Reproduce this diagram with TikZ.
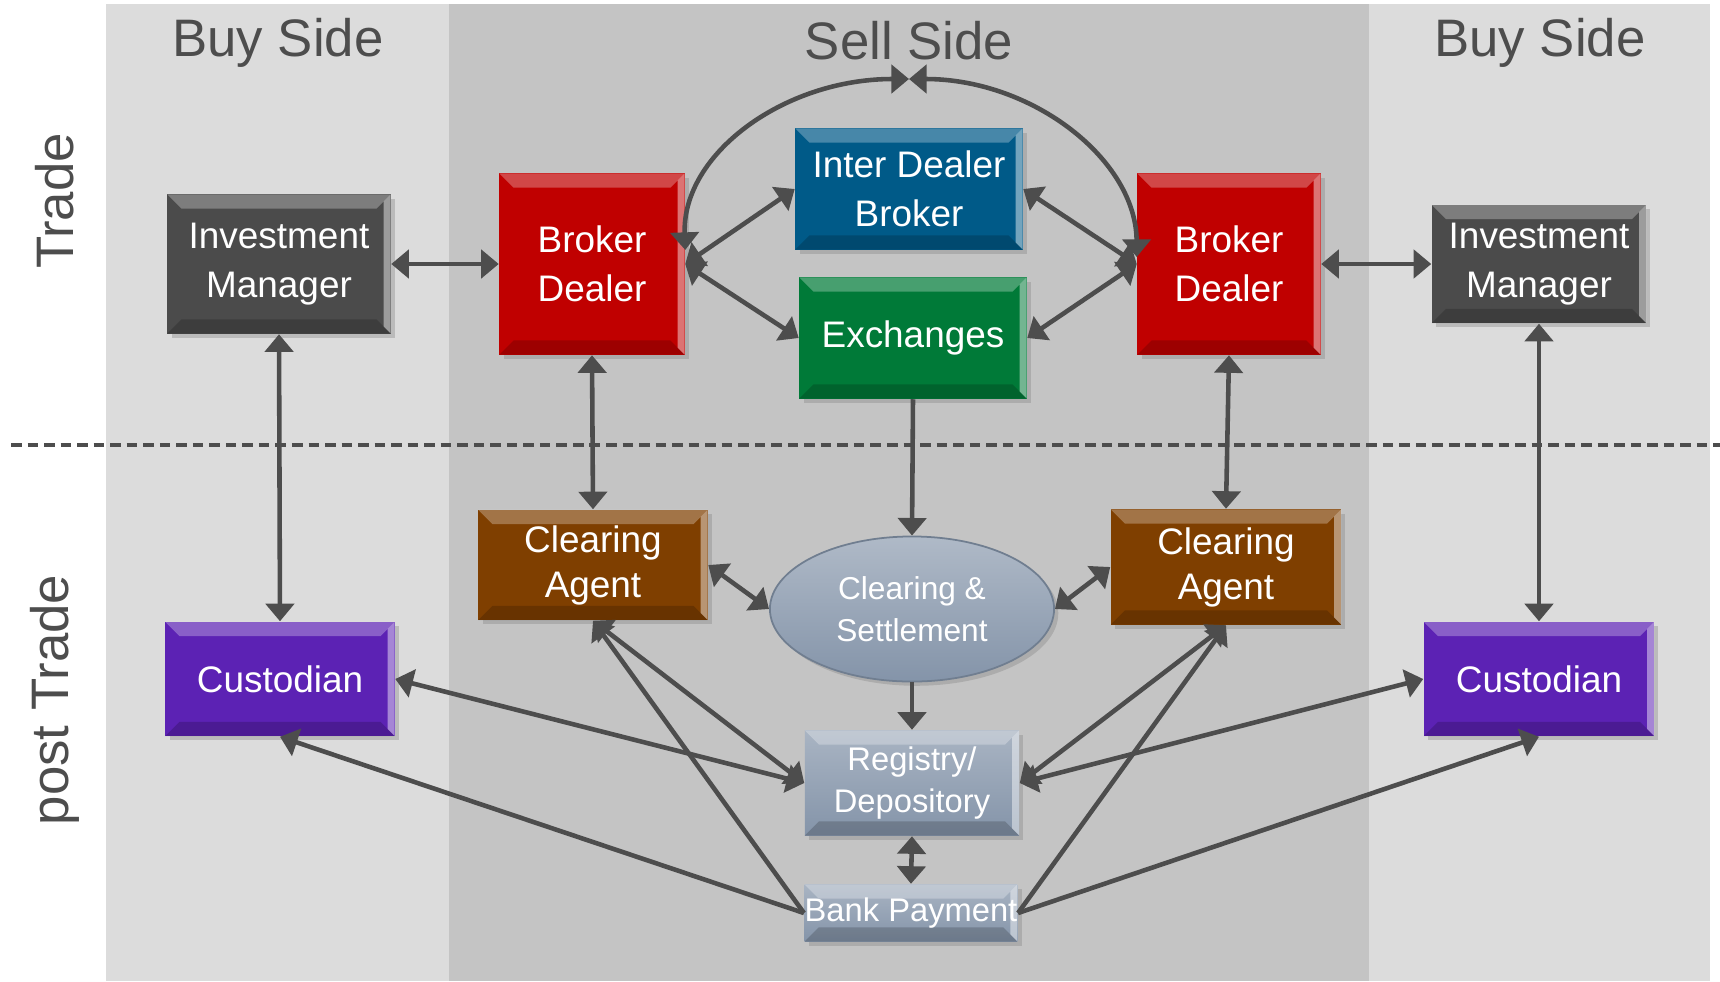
\documentclass[tikz,border=0pt]{standalone}
\usepackage{fontspec}
\setmainfont{Liberation Sans}
\usetikzlibrary{arrows.meta,shapes.geometric,shadows}

\definecolor{buygray}{HTML}{DCDCDC}
\definecolor{sellgray}{HTML}{C4C4C4}
\definecolor{inkgray}{HTML}{4D4D4D}
\definecolor{imgray}{HTML}{4B4B4B}
\definecolor{bdred}{HTML}{C00000}
\definecolor{idbblue}{HTML}{005A88}
\definecolor{exgreen}{HTML}{007A38}
\definecolor{cabrown}{HTML}{7F3F00}
\definecolor{cuspurple}{HTML}{5C22B4}
\definecolor{steel}{HTML}{8494A9}

\tikzset{
  >={Triangle[length=5pt,width=8pt]},
  bevel/.style={path picture={
    \fill[white,opacity=.28] (path picture bounding box.north west) -- (path picture bounding box.north east)
      -- ([xshift=-4pt,yshift=-4pt]path picture bounding box.north east) -- ([xshift=4pt,yshift=-4pt]path picture bounding box.north west) -- cycle;
    \fill[white,opacity=.45] (path picture bounding box.north east) -- (path picture bounding box.south east)
      -- ([xshift=-2pt,yshift=2pt]path picture bounding box.south east) -- ([xshift=-2pt,yshift=-2pt]path picture bounding box.north east) -- cycle;
    \fill[black,opacity=.18] (path picture bounding box.south west) -- (path picture bounding box.south east)
      -- ([xshift=-4pt,yshift=4pt]path picture bounding box.south east) -- ([xshift=4pt,yshift=4pt]path picture bounding box.south west) -- cycle;
  }},
  box/.style={rectangle, inner sep=0pt, text=white, align=center,
    font=\fontsize{10.5}{14}\selectfont,
    drop shadow={shadow xshift=1.2pt, shadow yshift=-1.2pt, opacity=.35}, bevel},
  steelbox/.style={box, top color=steel!70!white, bottom color=steel,
    font=\fontsize{9.3}{12}\selectfont},
  link/.style={line width=1.3pt, draw=inkgray, <->},
  flow/.style={line width=1.3pt, draw=inkgray, ->},
  side/.style={text=inkgray, font=\fontsize{15}{18}\selectfont}
}

\begin{document}
\begin{tikzpicture}[x=0.01cm, y=-0.01cm]
		%%%%% START %%%%%
		\useasboundingbox (0,0) rectangle (1720,981);
		
		\fill[buygray] (106,4) rectangle (449,981);
		\fill[sellgray] (449,4) rectangle (1369,981);
		\fill[buygray] (1369,4) rectangle (1710,981);
		
		\node[side] (buyL) at (278,43) {Buy Side};
		\node[side] (sell) at (909,41) {Sell Side};
		\node[side] (buyR) at (1540,43) {Buy Side};
		\node[side, rotate=90] (trade) at (55,201) {Trade};
		\node[side, rotate=90] (post) at (55,700) {post Trade};
		
		\draw[line width=0.9pt, inkgray, dash pattern=on 3pt off 1.7pt] (11,445) -- (1720,445);
		
		% trade
		\node[box, fill=imgray, minimum width=2.23cm, minimum height=1.39cm] (imL) at (279,264) {Investment\\Manager};
		\node[box, fill=bdred, minimum width=1.85cm, minimum height=1.81cm] (bdL) at (592,264) {Broker\\Dealer};
		\node[box, fill=idbblue, minimum width=2.27cm, minimum height=1.21cm] (idb) at (909,189) {Inter Dealer\\Broker};
		\node[box, fill=exgreen, minimum width=2.27cm, minimum height=1.21cm] (exch) at (913,338) {Exchanges};
		\node[box, fill=bdred, minimum width=1.83cm, minimum height=1.81cm] (bdR) at (1229,264) {Broker\\Dealer};
		\node[box, fill=imgray, minimum width=2.14cm, minimum height=1.18cm] (imR) at (1539,264) {Investment\\Manager};
		\coordinate (arctop) at (909,79);
		
		% post trade
		\node[box, fill=cabrown, minimum width=2.29cm, minimum height=1.10cm, font=\fontsize{10.5}{12.8}\selectfont] (caL) at (593,565) {Clearing\\Agent};
		\node[ellipse, inner sep=0pt, text=white, align=center, font=\fontsize{9}{11.9}\selectfont,
		      minimum width=2.84cm, minimum height=1.45cm, top color=steel!65!white, bottom color=steel,
		      draw=steel!85!black, line width=0.5pt,
		      drop shadow={shadow xshift=1.2pt, shadow yshift=-1.2pt, opacity=.35}] (cs) at (912,609) {Clearing \&\\Settlement};
		\node[box, fill=cabrown, minimum width=2.30cm, minimum height=1.15cm, font=\fontsize{10.5}{12.8}\selectfont] (caR) at (1226,567) {Clearing\\Agent};
		\node[box, fill=cuspurple, minimum width=2.29cm, minimum height=1.14cm] (cusL) at (280,679) {Custodian};
		\node[box, fill=cuspurple, minimum width=2.30cm, minimum height=1.14cm] (cusR) at (1539,679) {Custodian};
		\node[steelbox, minimum width=2.14cm, minimum height=1.05cm] (reg) at (912,783) {Registry/\\Depository};
		\node[steelbox, minimum width=2.12cm, minimum height=0.57cm] (bank) at (911,913) {Bank Payment};
		
		% connectors
		\draw[link] (imL.east) -- (bdL.west);
		\draw[link] (bdR.east) -- (imR.west);
		\draw[link] (bdL.east) -- (idb.west);
		\draw[link] (bdL.east) -- (exch.west);
		\draw[link] (bdR.west) -- (idb.east);
		\draw[link] (bdR.west) -- (exch.east);
		\draw[link] (arctop) .. controls (784,79) and (682,154) .. ([yshift=4pt]bdL.east);
		\draw[link] (arctop) .. controls (1033,79) and (1136,160) .. ([yshift=2pt]bdR.west);
		
		\draw[link] (imL.south) -- (cusL.north);
		\draw[link] (bdL.south) -- (caL.north);
		\draw[link] (bdR.south) -- (caR.north);
		\draw[link] (imR.south) -- (cusR.north);
		
		\draw[flow] (exch.south) -- (cs.north);
		\draw[link] (caL.east) -- (cs.west);
		\draw[link] (cs.east) -- (caR.west);
		\draw[flow] (cs.south) -- (reg.north);
		\draw[link] (reg.south) -- (bank.north);
		
		\draw[link] (cusL.east) -- (reg.west);
		\draw[link] (caL.south) -- (reg.west);
		\draw[flow] (bank.west) -- (cusL.south);
		\draw[flow] (bank.west) -- (caL.south);
		\draw[link] (reg.east) -- (cusR.west);
		\draw[link] (reg.east) -- (caR.south);
		\draw[flow] (bank.east) -- (cusR.south);
		\draw[flow] (bank.east) -- (caR.south);
		
		%%%%% END %%%%%
\end{tikzpicture}
\end{document}
